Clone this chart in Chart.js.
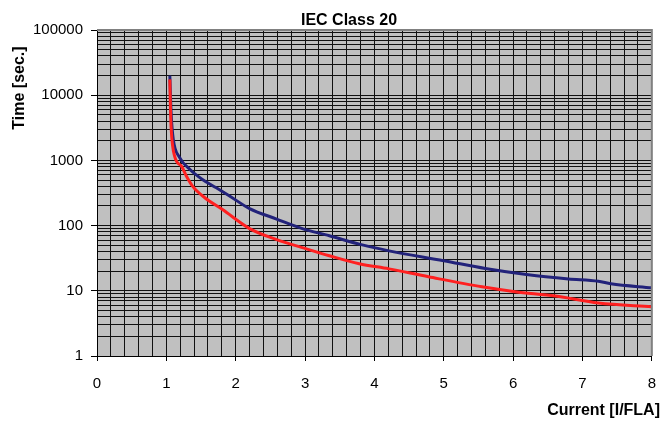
<!DOCTYPE html>
<html>
<head>
<meta charset="utf-8">
<title>IEC Class 20</title>
<script src="https://cdn.jsdelivr.net/npm/chart.js@4/dist/chart.umd.min.js"></script>
<style>
  html, body { margin: 0; padding: 0; background: #fff; }
  #wrap { width: 670px; height: 421px; }
</style>
</head>
<body>
<div id="wrap"><canvas id="trip"></canvas></div>
<script>
// Trip curves, current as multiple of FLA vs. trip time in seconds
const hotCurrent = [1.05, 1.06, 1.07, 1.12, 1.22, 1.29, 1.38, 1.55, 1.81, 2.2, 2.59, 2.96, 3.35, 3.78, 4.21, 4.78, 5.55, 6.03, 6.61, 7.23, 8];
const hotTime = [17500, 6000, 3000, 1150, 810, 570, 400, 270, 176, 90, 61, 46, 34.5, 26, 21.7, 16.4, 11.5, 9.7, 8.3, 6.5, 5.7];
const coldCurrent = [1.05, 1.07, 1.1, 1.19, 1.34, 1.52, 1.72, 1.9, 2.2, 2.59, 2.96, 3.35, 3.81, 4.21, 5.0, 5.6, 6.22, 6.8, 7.23, 7.41, 8];
const coldTime = [20000, 5000, 2100, 1110, 725, 510, 380, 290, 182, 126, 90, 70, 51, 41, 29, 22, 17.6, 15.2, 14, 12.8, 11.1];

const xTicks = [];
for (let i = 0; i <= 40; i++) xTicks.push(+(i * 0.2).toFixed(1));
const yTicks = [];
for (let e = 0; e < 5; e++) {
  for (let s = 1; s <= 9; s++) yTicks.push(s * Math.pow(10, e));
}
yTicks.push(100000);

const chartTitle = 'IEC Class 20';
const yTitle = 'Time [sec.]';
const xTitle = 'Current [I/FLA]';

const FONT = '"Liberation Sans", Arial, sans-serif';

function toPoints(xs, ys) {
  return xs.map((x, i) => ({ x, y: ys[i] }));
}

const isDecade = (v) => Math.abs(Math.log10(v) - Math.round(Math.log10(v))) < 1e-9;
const isWhole = (v) => Math.abs(v - Math.round(v)) < 1e-6;

// plot background, grey frame and the three captions
const decor = {
  id: 'decor',
  beforeDraw(chart) {
    const { ctx, chartArea: a } = chart;
    ctx.save();
    ctx.fillStyle = '#c0c0c0';
    ctx.fillRect(a.left, a.top, a.right - a.left, a.bottom - a.top);
    ctx.restore();
  },
  afterDraw(chart) {
    const { ctx, chartArea: a } = chart;
    ctx.save();
    ctx.strokeStyle = '#808080';
    ctx.lineWidth = 2;
    ctx.beginPath();
    ctx.moveTo(a.left, a.top);
    ctx.lineTo(a.right, a.top);
    ctx.lineTo(a.right, a.bottom);
    ctx.stroke();

    ctx.fillStyle = '#000';
    ctx.font = 'bold 16px ' + FONT;
    ctx.textAlign = 'center';
    ctx.textBaseline = 'middle';
    ctx.fillText(chartTitle, 349, 21);

    ctx.textAlign = 'right';
    ctx.fillText(xTitle, 660, 411);

    ctx.translate(20, 88);
    ctx.rotate(-Math.PI / 2);
    ctx.textAlign = 'center';
    ctx.fillText(yTitle, 0, 0);
    ctx.restore();
  },
};

new Chart(document.getElementById('trip'), {
  type: 'line',
  data: {
    datasets: [
      {
        label: 'hot',
        data: toPoints(hotCurrent, hotTime),
        borderColor: '#ff2020',
        borderWidth: 3,
        pointRadius: 0,
        cubicInterpolationMode: 'monotone',
      },
      {
        label: 'cold',
        data: toPoints(coldCurrent, coldTime),
        borderColor: '#22227a',
        borderWidth: 3,
        pointRadius: 0,
        cubicInterpolationMode: 'monotone',
      },
    ],
  },
  options: {
    responsive: true,
    maintainAspectRatio: false,
    animation: false,
    layout: { padding: { top: 30, right: 17, left: 0, bottom: 0 } },
    plugins: {
      legend: { display: false },
      tooltip: { enabled: false },
    },
    scales: {
      x: {
        type: 'linear',
        min: 0,
        max: 8,
        afterBuildTicks(scale) {
          scale.ticks = xTicks.map((value) => ({ value }));
        },
        afterFit(scale) {
          scale.height = 65;
        },
        border: { color: '#000', width: 1 },
        grid: {
          color: '#111',
          lineWidth: 1,
          tickLength: 5,
          tickColor: (c) => (c.tick && isWhole(c.tick.value) ? '#000' : 'rgba(0,0,0,0)'),
        },
        ticks: {
          autoSkip: false,
          maxRotation: 0,
          padding: 14,
          color: '#000',
          font: { family: FONT, size: 15 },
          callback: (v) => (isWhole(v) ? String(Math.round(v)) : ''),
        },
      },
      y: {
        type: 'logarithmic',
        min: 1,
        max: 100000,
        afterBuildTicks(scale) {
          scale.ticks = yTicks.map((value) => ({ value, major: isDecade(value) }));
        },
        afterFit(scale) {
          scale.width = 97;
        },
        border: { color: '#000', width: 1 },
        grid: {
          color: '#111',
          lineWidth: 1,
          tickLength: 6,
          tickColor: (c) => (c.tick && isDecade(c.tick.value) ? '#000' : 'rgba(0,0,0,0)'),
        },
        ticks: {
          autoSkip: false,
          padding: 8,
          color: '#000',
          font: { family: FONT, size: 15 },
          callback: (v) => (isDecade(v) ? String(v) : ''),
        },
      },
    },
  },
  plugins: [decor],
});
</script>
</body>
</html>
